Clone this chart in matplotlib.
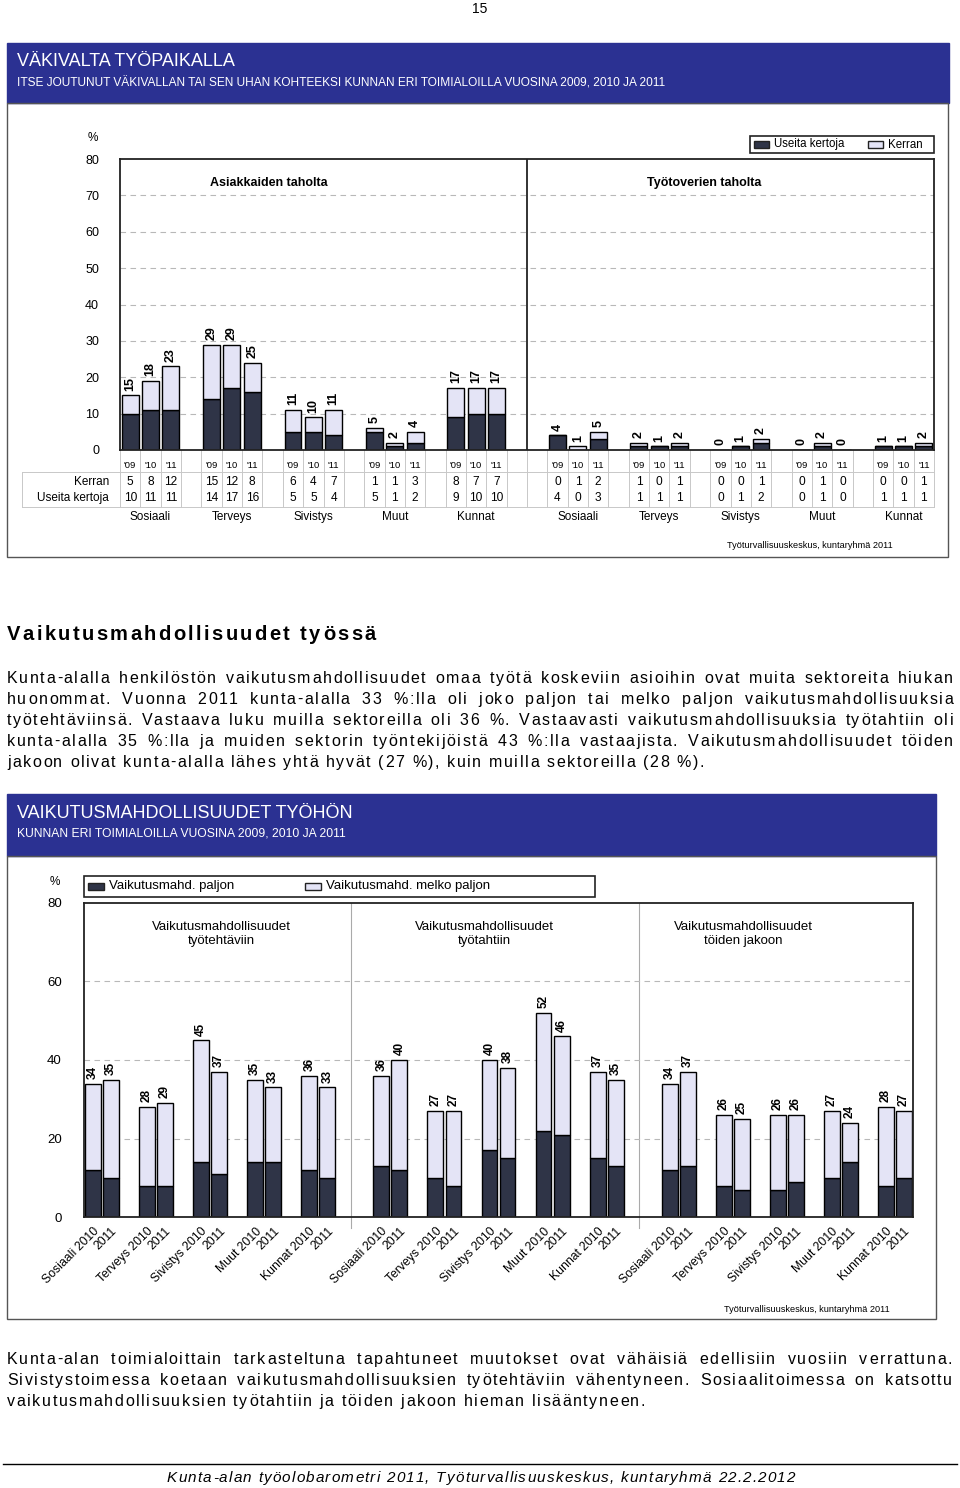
import matplotlib
matplotlib.use('Agg')
import matplotlib.pyplot as plt
from matplotlib.patches import Rectangle
from matplotlib.font_manager import FontProperties
from matplotlib import transforms
import numpy as np

W, H = 960, 1488
DARK = '#2f3447'
LIGHT = '#e4e4f6'
NAVY = '#2b3192'
FONT = 'Liberation Sans'
plt.rcParams['font.family'] = [FONT, 'DejaVu Sans']

# ---- chart 1 data: violence at work ----
sectors = ['Sosiaali', 'Terveys', 'Sivistys', 'Muut', 'Kunnat']
years1 = ["'09", "'10", "'11"]
panels1 = ['Asiakkaiden taholta', 'Työtoverien taholta']
asiak_kerran = [5, 8, 12, 15, 12, 8, 6, 4, 7, 1, 1, 3, 8, 7, 7]
asiak_useita = [10, 11, 11, 14, 17, 16, 5, 5, 4, 5, 1, 2, 9, 10, 10]
asiak_total = [15, 18, 23, 29, 29, 25, 11, 10, 11, 5, 2, 4, 17, 17, 17]
tyot_kerran = [0, 1, 2, 1, 0, 1, 0, 0, 1, 0, 1, 0, 0, 0, 1]
tyot_useita = [4, 0, 3, 1, 1, 1, 0, 1, 2, 0, 1, 0, 1, 1, 1]
tyot_total = [4, 1, 5, 2, 1, 2, 0, 1, 2, 0, 2, 0, 1, 1, 2]

# ---- chart 2 data: possibilities to influence ----
years2 = ['2010', '2011']
panels2 = ['Vaikutusmahdollisuudet\ntyötehtäviin',
           'Vaikutusmahdollisuudet\ntyötahtiin',
           'Vaikutusmahdollisuudet\ntöiden jakoon']
tehtava_paljon = [12, 10, 8, 8, 14, 11, 14, 14, 12, 10]
tehtava_total = [34, 35, 28, 29, 45, 37, 35, 33, 36, 33]
tahti_paljon = [13, 12, 10, 8, 17, 15, 22, 21, 15, 13]
tahti_total = [36, 40, 27, 27, 40, 38, 52, 46, 37, 35]
jako_paljon = [12, 13, 8, 7, 7, 9, 10, 14, 8, 10]
jako_total = [34, 37, 26, 25, 26, 26, 27, 24, 28, 27]

para1 = ["Kunta-alalla henkilöstön vaikutusmahdollisuudet omaa työtä koskeviin asioihin ovat muita sektoreita hiukan",
         "huonommat. Vuonna 2011 kunta-alalla 33 %:lla oli joko paljon tai melko paljon vaikutusmahdollisuuksia",
         "työtehtäviinsä. Vastaava luku muilla sektoreilla oli 36 %. Vastaavasti vaikutusmahdollisuuksia työtahtiin oli",
         "kunta-alalla 35 %:lla ja muiden sektorin työntekijöistä 43 %:lla vastaajista. Vaikutusmahdollisuudet töiden",
         "jakoon olivat kunta-alalla lähes yhtä hyvät (27 %), kuin muilla sektoreilla (28 %)."]
para2 = ["Kunta-alan toimialoittain tarkasteltuna tapahtuneet muutokset ovat vähäisiä edellisiin vuosiin verrattuna.",
         "Sivistystoimessa koetaan vaikutusmahdollisuuksien työtehtäviin vähentyneen. Sosiaalitoimessa on katsottu",
         "vaikutusmahdollisuuksien työtahtiin ja töiden jakoon hieman lisääntyneen."]


def px_box(x0, y0, x1, y1):
    return [x0 / W, 1 - y1 / H, (x1 - x0) / W, (y1 - y0) / H]


fig = plt.figure(figsize=(W / 100, H / 100), dpi=100)
page = fig.add_axes([0, 0, 1, 1])
page.set_xlim(0, W)
page.set_ylim(H, 0)
page.axis('off')
renderer = fig.canvas.get_renderer()

_wcache = {}


def char_w(c, fp):
    key = (c, fp.get_size(), fp.get_weight(), fp.get_style(), tuple(fp.get_family()))
    if key not in _wcache:
        a = renderer.get_text_width_height_descent('H' + c + 'H', fp, False)[0]
        b = renderer.get_text_width_height_descent('HH', fp, False)[0]
        _wcache[key] = a - b
    return _wcache[key]


def spaced(s, x0, y, size, ls=0.0, width=None, spread='space', weight='normal',
           style='normal', family=FONT):
    fp = FontProperties(family=family, size=size, weight=weight, style=style)
    ws = [char_w(c, fp) for c in s]
    nat = sum(ws) + ls * (len(s) - 1)
    ex_sp = ex_all = 0.0
    if width is not None:
        if spread == 'space':
            ex_sp = (width - nat) / s.count(' ')
        else:
            ex_all = (width - nat) / (len(s) - 1)
    x = x0
    for c, cw in zip(s, ws):
        if c != ' ':
            page.text(x, y, c, fontproperties=fp, ha='left', va='baseline')
        x += cw + ls + ex_all + (ex_sp if c == ' ' else 0)


def frame(x0, y0, x1, y1, color='#555555', lw=1.0):
    page.add_patch(Rectangle((x0, y0), x1 - x0, y1 - y0, fill=False,
                             edgecolor=color, lw=lw))


def header(x0, y0, x1, y1, title, sub, sub_size):
    page.add_patch(Rectangle((x0, y0), x1 - x0, y1 - y0, color=NAVY))
    page.text(x0 + 10, y0 + 19, title, color='white', fontsize=13, va='center')
    page.text(x0 + 10, y0 + 40, sub, color='white', fontsize=sub_size, va='center')


def legend_box(x0, y0, x1, y1, items, size, pw):
    page.add_patch(Rectangle((x0, y0), x1 - x0, y1 - y0, fill=False,
                             edgecolor='#222222', lw=1.2))
    yc = (y0 + y1) / 2
    for px, col, lab in items:
        page.add_patch(Rectangle((px, yc - 3.5), pw, 7, facecolor=col,
                                 edgecolor='#222222', lw=1))
        page.text(px + pw + 5, yc, lab, fontsize=size, va='center')


page.text(480, 9, '15', fontsize=10, ha='center', va='center')

# ================= chart 1 =================
header(7, 43, 949, 103, 'VÄKIVALTA TYÖPAIKALLA',
       'ITSE JOUTUNUT VÄKIVALLAN TAI SEN UHAN KOHTEEKSI KUNNAN ERI TOIMIALOILLA VUOSINA 2009, 2010 JA 2011',
       8.55)
frame(7, 103, 948, 557)

ax1 = fig.add_axes(px_box(120, 159, 934, 450))
ax1.set_xlim(0, 40)
ax1.set_ylim(0, 80)
slots1 = np.array([4 * g + j for g in range(len(sectors)) for j in range(len(years1))]) + 0.5
series1 = [(asiak_kerran, asiak_useita, asiak_total), (tyot_kerran, tyot_useita, tyot_total)]
for p, (ker, use, tot) in enumerate(series1):
    xs = slots1 + 21 * p
    ax1.bar(xs, use, width=0.83, color=DARK, edgecolor='black', lw=1, zorder=3)
    ax1.bar(xs, ker, bottom=use, width=0.83, color=LIGHT, edgecolor='black', lw=1, zorder=3)
    for x, k, u, t in zip(xs, ker, use, tot):
        ax1.text(x, k + u + 1.3, str(t), rotation=90, ha='center', va='bottom',
                 fontsize=9, fontweight='bold')
    ax1.text(7.3 + 21.4 * p, 73.3, panels1[p], ha='center', va='center',
             fontsize=9, fontweight='bold')
for v in range(10, 80, 10):
    ax1.axhline(v, color='#b8b8b8', lw=0.8, ls=(0, (5, 4)), zorder=1)
ax1.axvline(20, color='#222222', lw=1.3, zorder=4)
ax1.set_xticks([])
ax1.set_yticks(range(0, 81, 10))
ax1.tick_params(axis='y', length=0, pad=15, labelsize=9)
for sp in ax1.spines.values():
    sp.set_color('#222222')
    sp.set_linewidth(1.3)
    sp.set_zorder(5)
page.text(93, 138, '%', fontsize=8.5, ha='center', va='center')
legend_box(750, 136, 934, 153, [(754, DARK, 'Useita kertoja'), (868, LIGHT, 'Kerran')], 8.3, 15)

# table under chart 1
tr1 = transforms.blended_transform_factory(ax1.transData, page.transData)
for k in range(0, 41):
    page.plot([k, k], [450, 507], transform=tr1, color='#c8c8c8', lw=0.7)
page.plot([22, 934], [472, 472], color='#c8c8c8', lw=0.7)
page.plot([22, 934], [507, 507], color='#c8c8c8', lw=0.7)
page.plot([22, 22], [472, 507], color='#c8c8c8', lw=0.7)
page.text(109, 482, 'Kerran', fontsize=8.5, ha='right', va='center')
page.text(109, 498, 'Useita kertoja', fontsize=8.5, ha='right', va='center')
for p, (ker, use, tot) in enumerate(series1):
    xs = slots1 + 21 * p
    for i, x in enumerate(xs):
        page.text(x, 465, years1[i % 3], transform=tr1, fontsize=6.8, ha='center', va='center')
        page.text(x, 482, str(ker[i]), transform=tr1, fontsize=8.6, ha='center', va='center')
        page.text(x, 498, str(use[i]), transform=tr1, fontsize=8.6, ha='center', va='center')
    for g, name in enumerate(sectors):
        page.text(4 * g + 1.5 + 21 * p, 517, name, transform=tr1, fontsize=8.5,
                  ha='center', va='center')
page.text(893, 545, 'Työturvallisuuskeskus, kuntaryhmä 2011', fontsize=6.6,
          ha='right', va='center')

# ================= text =================
spaced('Vaikutusmahdollisuudet työssä', 7, 640, 14.5, weight='bold', width=369, spread='all')
for i, line in enumerate(para1):
    last = i == len(para1) - 1
    spaced(line, 7, 683 + 21 * i, 11.5, ls=1.6, width=None if last else 946)
for i, line in enumerate(para2):
    last = i == len(para2) - 1
    spaced(line, 7, 1364 + 21 * i, 11.5, ls=1.6, width=None if last else 945)

# ================= chart 2 =================
header(7, 794, 936, 856, 'VAIKUTUSMAHDOLLISUUDET TYÖHÖN',
       'KUNNAN ERI TOIMIALOILLA VUOSINA 2009, 2010 JA 2011', 8.7)
frame(7, 856, 936, 1319)

ax2 = fig.add_axes(px_box(84, 903, 913, 1217))
ax2.set_xlim(0, 46)
ax2.set_ylim(0, 80)
slots2 = np.array([3 * g + j for g in range(len(sectors)) for j in range(len(years2))]) + 0.5
series2 = [(tehtava_paljon, tehtava_total), (tahti_paljon, tahti_total), (jako_paljon, jako_total)]
ticks, labels = [], []
for p, (pal, tot) in enumerate(series2):
    xs = slots2 + 16 * p
    melko = [t - a for t, a in zip(tot, pal)]
    ax2.bar(xs, pal, width=0.88, color=DARK, edgecolor='black', lw=1, zorder=3)
    ax2.bar(xs, melko, bottom=pal, width=0.88, color=LIGHT, edgecolor='black', lw=1, zorder=3)
    for x, t in zip(xs, tot):
        ax2.text(x, t + 1.2, str(t), rotation=90, ha='center', va='bottom',
                 fontsize=8.5, fontweight='bold')
    ax2.text([7.6, 22.2, 36.6][p], 72, panels2[p], ha='center', va='center',
             fontsize=9.5, multialignment='center')
    for g, name in enumerate(sectors):
        for j, yr in enumerate(years2):
            ticks.append(xs[2 * g + j])
            labels.append(f'{name} {yr}' if j == 0 else yr)
for d in [14.83, 30.78]:
    ax2.axvline(d, ymin=-0.035, ymax=1, color='#aaaaaa', lw=0.8, clip_on=False, zorder=1)
for v in [20, 40, 60]:
    ax2.axhline(v, color='#b8b8b8', lw=0.8, ls=(0, (5, 4)), zorder=1)
ax2.set_xticks(ticks, labels, rotation=45, ha='right', rotation_mode='anchor', fontsize=8.8)
ax2.set_yticks([0, 20, 40, 60, 80])
ax2.tick_params(axis='y', length=0, pad=16, labelsize=9.5)
ax2.tick_params(axis='x', length=0, pad=6)
for sp in ax2.spines.values():
    sp.set_color('#222222')
    sp.set_linewidth(1.3)
    sp.set_zorder(5)
page.text(55, 882, '%', fontsize=8.5, ha='center', va='center')
legend_box(84, 876, 595, 897, [(88, DARK, 'Vaikutusmahd. paljon'),
                               (305, LIGHT, 'Vaikutusmahd. melko paljon')], 9.5, 16)
page.text(890, 1309, 'Työturvallisuuskeskus, kuntaryhmä 2011', fontsize=6.6,
          ha='right', va='center')

# ================= footer =================
page.plot([3, 957], [1464, 1464], color='black', lw=1)
spaced('Kunta-alan työolobarometri 2011, Työturvallisuuskeskus, kuntaryhmä 22.2.2012',
       167, 1482, 11, style='italic', width=628, spread='all')

fig.savefig('out.png', dpi=100)
